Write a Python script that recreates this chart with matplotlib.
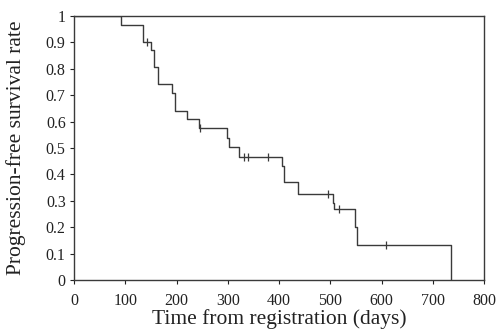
import matplotlib
matplotlib.use("Agg")
import matplotlib.pyplot as plt

# Kaplan-Meier step data (days, survival after the step)
step_days = [0, 92, 135, 150, 155.5, 163, 190.6, 197.7, 220.5, 244.6, 298, 302.4, 321, 406, 410, 437, 505, 508, 549, 553, 735.6]
step_surv = [1.0, 0.967, 0.903, 0.869, 0.806, 0.742, 0.707, 0.641, 0.609, 0.575, 0.537, 0.503, 0.467, 0.43, 0.372, 0.325, 0.292, 0.27, 0.202, 0.133, 0.0]

censor_days = [143, 245, 332, 339, 378.5, 495, 517, 608]
censor_surv = [0.903, 0.575, 0.467, 0.467, 0.467, 0.325, 0.27, 0.133]

x_ticks = [0, 100, 200, 300, 400, 500, 600, 700, 800]
y_ticks = [0, 0.1, 0.2, 0.3, 0.4, 0.5, 0.6, 0.7, 0.8, 0.9, 1.0]
y_tick_labels = ["0", "0.1", "0.2", "0.3", "0.4", "0.5", "0.6", "0.7", "0.8", "0.9", "1"]

plt.rcParams['font.family'] = ['Liberation Serif', 'DejaVu Serif']

fig = plt.figure(figsize=(5.0, 3.31), dpi=100)
ax = fig.add_axes([0.148, 0.154, 0.82, 0.798])

col = '#3a3a3a'
ax.step(step_days, step_surv, where='post', color=col, lw=1.0)
ax.plot(censor_days, censor_surv, linestyle='none', marker='|', markersize=6, color=col, mew=0.9)

ax.set_xlim(0, 800)
ax.set_ylim(0, 1)
ax.set_xticks(x_ticks)
ax.set_yticks(y_ticks)
ax.set_yticklabels(y_tick_labels)
ax.tick_params(direction='out', length=3, width=0.8, labelsize=11.5, colors='#222222')
ax.tick_params(axis='x', pad=6)
ax.tick_params(axis='y', pad=3)
ax.set_xlabel('Time from registration (days)', fontsize=15.5, color='#222222', labelpad=0.5)
ax.set_ylabel('Progression-free survival rate', fontsize=15.5, color='#222222')
ax.yaxis.set_label_coords(-0.117, 0.5)
for s in ax.spines.values():
    s.set_color(col)
    s.set_linewidth(1.0)

fig.savefig('out.png', dpi=100)
